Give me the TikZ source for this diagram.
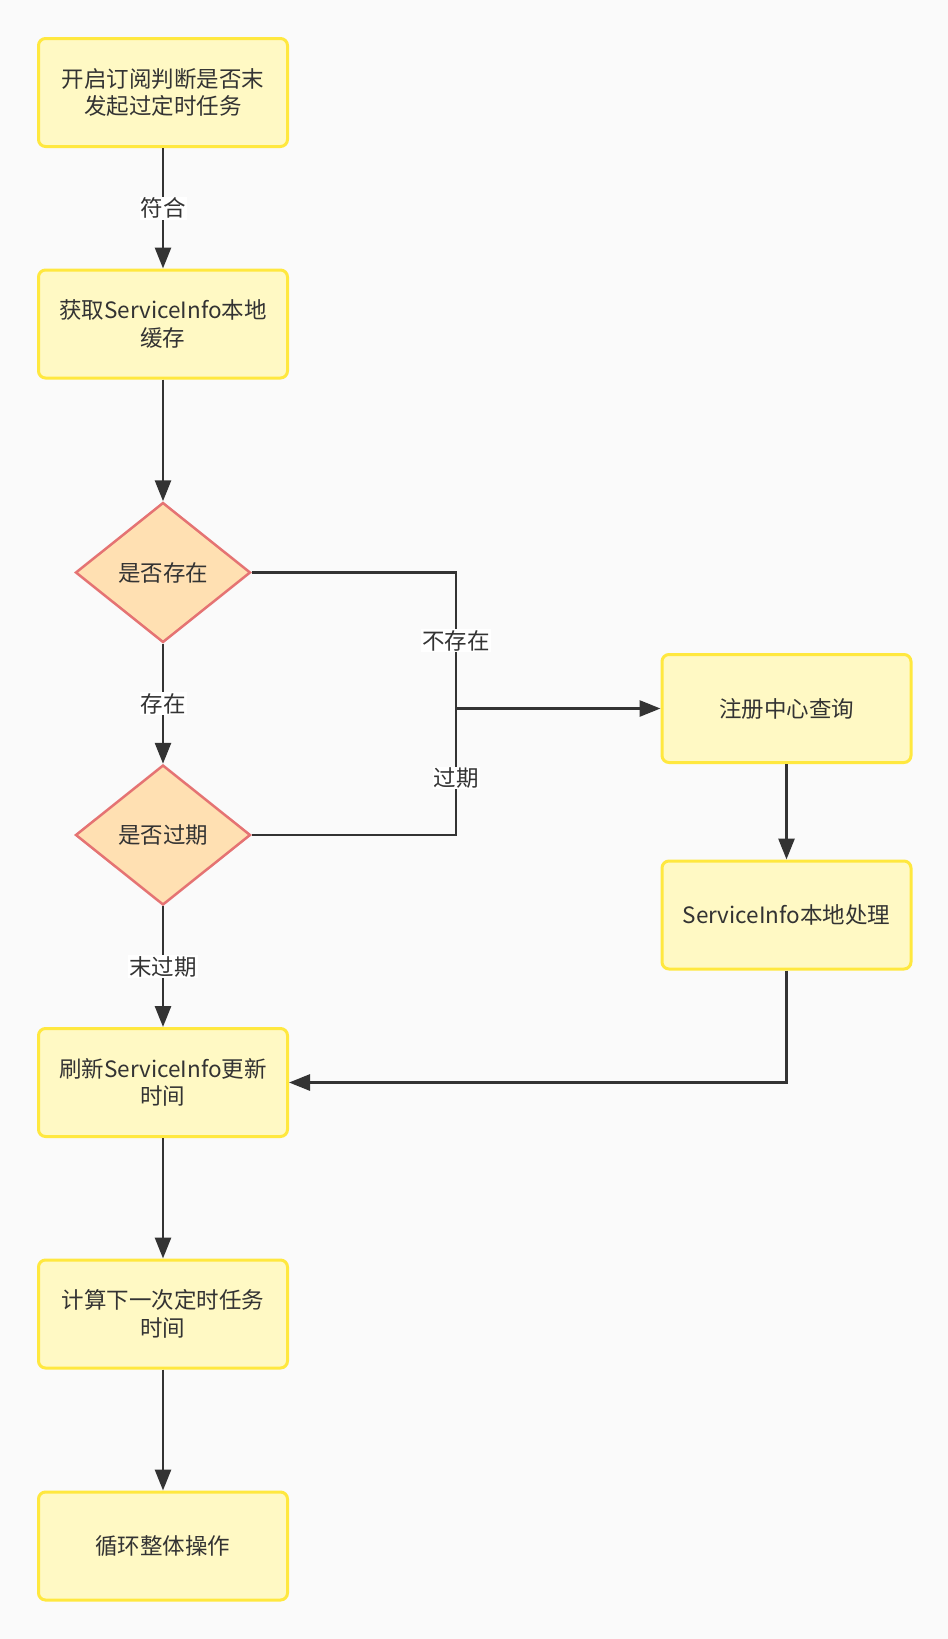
\documentclass[tikz,border=0pt]{standalone}
\usepackage{fontspec}
\setmainfont{Noto Sans CJK SC}
\usepackage{tikz}
\usetikzlibrary{positioning,arrows.meta,shapes.geometric}

\definecolor{bgc}{HTML}{FAFAFA}
\definecolor{boxfill}{HTML}{FFF9C4}
\definecolor{boxline}{HTML}{FFE83F}
\definecolor{decfill}{HTML}{FFE0B2}
\definecolor{decline}{HTML}{E57373}
\definecolor{ink}{HTML}{333333}

\begin{document}
\begin{tikzpicture}[x=1pt, y=-1pt, font=\fontsize{22.5}{27.5}\selectfont, text=ink,
  box/.style={draw=boxline, line width=3pt, rounded corners=7pt, fill=boxfill,
    align=center, minimum width=249pt, minimum height=108pt, inner sep=2pt,
    text width=236pt},
  decision/.style={diamond, draw=decline, line width=2.5pt, fill=decfill,
    minimum width=175pt, minimum height=140pt, inner sep=0pt},
  conn/.style={draw=ink, line width=2.8pt, -{Triangle[length=21pt,width=16pt]}},
  plain/.style={draw=ink, line width=2.8pt},
  lbl/.style={fill=white, inner sep=1pt, text=ink}]
\fill[bgc] (0,0) rectangle (948,1639);
\node[box] (start)   at (163, 92.5) {开启订阅判断是否末\\发起过定时任务};
\node[box] (cache)   at (163, 324)  {获取ServiceInfo本地\\缓存};
\node[decision] (exist)   at (163, 572.5) {是否存在};
\node[decision] (expired) at (163, 835)   {是否过期};
\node[box] (query)   at (786.5, 708.5) {注册中心查询};
\node[box] (local)   at (786.5, 915)   {ServiceInfo本地处理};
\node[box] (refresh) at (163, 1082.5) {刷新ServiceInfo更新\\时间};
\node[box] (calc)    at (163, 1314)   {计算下一次定时任务\\时间};
\node[box] (again)   at (163, 1546)   {循环整体操作};
\coordinate (jn) at (456, 708.5);
\draw[conn] (start) -- node[lbl] {符合} (cache);
\draw[conn] (cache) -- (exist);
\draw[conn] (exist) -- node[lbl] {存在} (expired);
\draw[plain] (exist.east) -- (exist.east -| jn) -- node[lbl] {不存在} (jn);
\draw[plain] (expired.east) -- (expired.east -| jn) -- node[lbl, pos=0.45] {过期} (jn);
\draw[conn] (jn) -- (query);
\draw[conn] (query) -- (local);
\draw[conn] (expired) -- node[lbl] {末过期} (refresh);
\draw[conn] (local.south) |- (refresh.east);
\draw[conn] (refresh) -- (calc);
\draw[conn] (calc) -- (again);
\end{tikzpicture}
\end{document}
